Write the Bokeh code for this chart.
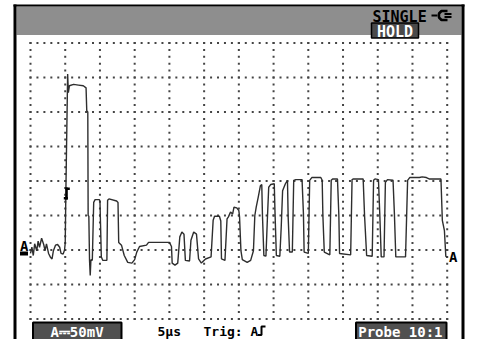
import numpy as np
from bokeh.plotting import figure
from bokeh.models import Range1d
from bokeh.core.properties import value
from bokeh.embed import file_html
from bokeh.resources import INLINE

t_us = [0.0, 0.2, 0.4, 0.6, 0.9, 1.1, 1.3, 1.6, 1.9, 2.1, 2.3, 2.6, 2.9, 3.1, 3.3, 3.6, 3.9, 4.2, 4.4, 4.7,
        4.9, 5.0, 5.1, 5.35, 5.45, 5.6, 6.2, 6.9, 7.6, 8.0, 8.1, 8.25, 8.3, 8.4, 8.5, 8.6, 8.7, 8.9, 9.1, 9.3,
        9.9, 10.0, 10.2, 10.4, 11.0, 11.1, 11.3, 12.4, 12.6, 12.7, 13.1, 13.5, 14.0, 14.6, 15.0, 15.3, 15.7,
        16.7, 17.0, 20.0, 20.3, 20.4, 20.8, 21.2, 21.5, 21.8, 22.1, 22.3, 22.9, 23.1, 23.5, 23.9, 24.2, 24.6,
        25.2, 26.0, 26.3, 26.5, 27.2, 27.4, 27.5, 28.0, 28.3, 28.5, 28.8, 29.1, 29.3, 29.7, 30.0, 30.1, 30.3,
        30.5, 31.2, 31.7, 32.1, 32.3, 32.5, 32.8, 33.1, 33.3, 33.4, 33.6, 33.9, 34.1, 34.3, 34.6, 35.1, 35.2,
        35.4, 35.9, 36.1, 36.3, 36.7, 37.0, 37.1, 37.3, 37.7, 37.9, 38.2, 39.1, 39.3, 39.4, 40.0, 40.2, 40.5,
        41.8, 42.0, 42.1, 42.3, 43.1, 43.3, 43.5, 44.2, 44.4, 44.5, 46.1, 46.3, 46.5, 47.9, 48.1, 48.4, 49.2,
        49.4, 49.6, 50.1, 50.3, 50.5, 50.9, 51.1, 51.4, 52.2, 52.4, 52.6, 54.0, 54.3, 54.6, 56.0, 56.4, 57.0,
        57.4, 59.1, 59.3, 59.6, 59.8, 60.0]
v_mV = [-5, 4, -8, 9, -1, 13, 4, 17, 8, -1, 9, -5, -11, -13, -1, 7, 8, 4, -5, -6,
        0, 10, 89, 255, 228, 238, 240, 239, 238, 235, 202, 200, 50, 49, -15, -37, -14, -15, 69, 73,
        73, 71, -10, -15, -15, 72, 74, 71, 69, 11, 7, -8, -18, -19, -14, -3, 5,
        7, 11, 11, 5, -19, -22, -19, 19, 26, 23, -15, -16, 14, 26, 23, -13, -19,
        -13, -10, 43, 49, 49, 42, -13, -15, 45, 48, 55, 52, 62, 61, 57, 48, -1,
        -14, -18, -15, -1, 50, 62, 77, 93, 95, 50, -8, -9, 43, 91, 95, 96, 57,
        -8, -9, 33, 86, 96, 101, 48, -3, -3, 101, 102, 102, 52, -3, -5, 101, 105,
        105, 101, 50, -3, -7, 101, 103, 103, 50, -5, -7, 102, 103, 103, 50, -8, -9,
        101, 103, 102, 50, -10, -10, 98, 102, 101, 52, -10, -10, 101, 105, 105, 106, 105,
        103, 103, 43, 28, -9, -11]

TIME_PER_DIV_US = 5
VOLT_PER_DIV_MV = 50
N_XDIV = 12
N_YDIV = 8
V_BOTTOM_MV = -100

status_text = "SINGLE"
hold_text = "HOLD"
range_text = "A\u239350mV"
time_text = "5\u00b5s"
trig_text = "Trig: A"
probe_text = "Probe 10:1"
channel_text = "A"

# ---------------- screen layout (pixels) ----------------
W, H = 480, 339
GX0, GX1 = 30.0, 446.7      # grid left/right
GY0, GY1 = 42.5, 318.5      # grid top/bottom
T_SPAN = N_XDIV * TIME_PER_DIV_US
V_SPAN = N_YDIV * VOLT_PER_DIV_MV
pxu = (GX1 - GX0) / T_SPAN
pyu = (GY1 - GY0) / V_SPAN
x_start = -GX0 / pxu
x_end = (W - GX0) / pxu
y_start = V_BOTTOM_MV - (H - GY1) / pyu
y_end = V_BOTTOM_MV + V_SPAN + GY0 / pyu
TDY = -4.5   # text baseline correction
BY = 335.5   # bottom label baseline

p = figure(width=W, height=H, x_range=Range1d(x_start, x_end), y_range=Range1d(y_start, y_end),
           output_backend="svg", toolbar_location=None, min_border=0,
           x_axis_location=None, y_axis_location=None, outline_line_color=None,
           background_fill_color="white", border_fill_color="white",
           styles={"position": "absolute", "left": "0px", "top": "0px"})
p.grid.visible = False
p.extra_x_ranges = {"px": Range1d(0, W)}
p.extra_y_ranges = {"px": Range1d(H, 0)}
PX = dict(x_range_name="px", y_range_name="px")

FONT = value("DejaVu Sans Mono")

# header band and frame
p.quad(left=[16], right=[461], top=[6], bottom=[34.5], fill_color="#8e8e8e", line_color=None, **PX)
p.quad(left=[13, 461, 13], right=[16, 464, 464], top=[4, 4, 4], bottom=[H + 2, H + 2, 6],
       fill_color="black", line_color=None, **PX)

# grid dots (5 per division)
gx, gy = [], []
for k in range(N_YDIV + 1):
    vv = V_BOTTOM_MV + k * VOLT_PER_DIV_MV
    tt = np.arange(0, T_SPAN + 0.01, TIME_PER_DIV_US / 5)
    gx.extend(tt); gy.extend([vv] * len(tt))
for k in range(N_XDIV + 1):
    tt = k * TIME_PER_DIV_US
    vv = np.arange(V_BOTTOM_MV, V_BOTTOM_MV + V_SPAN + 0.01, VOLT_PER_DIV_MV / 5)
    gx.extend([tt] * len(vv)); gy.extend(vv)
p.scatter(gx, gy, marker="square", size=2, fill_color="#444444", line_color=None)

# trace
p.line(t_us, v_mV, line_color="#2e2e2e", line_width=1.4)

# trigger marker (bold I)
p.quad(left=[65, 65, 63.3], right=[67.3, 69.3, 67.3], top=[187, 187, 196.5], bottom=[199, 189.5, 199],
       fill_color="black", line_color=None, **PX)

# channel A markers
p.text(x=[19.5], y=[249.5 + TDY], text=[channel_text], text_font=FONT, text_font_style="bold",
       text_font_size="14px", text_color="black", text_baseline="alphabetic", **PX)
p.quad(left=[19.5], right=[27.5], top=[251], bottom=[255], fill_color="black", line_color=None, **PX)
p.text(x=[448.5], y=[261 + TDY], text=[channel_text], text_font=FONT, text_font_style="bold",
       text_font_size="14px", text_color="black", text_baseline="alphabetic", **PX)

# header texts
p.text(x=[372], y=[20.5 + TDY], text=[status_text], text_font=FONT, text_font_style="bold",
       text_font_size="15px", text_color="black", text_baseline="alphabetic", **PX)
p.quad(left=[371], right=[418], top=[22.5], bottom=[37.5], fill_color="#4a4a4a", line_color="black",
       line_width=1.5, **PX)
p.text(x=[394.5], y=[35.5 + TDY], text=[hold_text], text_font=FONT, text_font_style="bold",
       text_font_size="15px", text_color="white", text_align="center", text_baseline="alphabetic", **PX)
# plug icon
p.line([431, 437], [15, 15], line_color="black", line_width=2, **PX)
p.line([447, 441, 438.5, 438.5, 441, 447], [10.5, 10.5, 13, 17, 19.5, 19.5], line_color="black",
       line_width=2.5, **PX)
p.multi_line([[444, 451], [444, 451]], [[13.5, 13.5], [16.5, 16.5]], line_color="black", line_width=2, **PX)

# bottom labels
p.quad(left=[32.5, 355.5], right=[121, 446], top=[322, 322], bottom=[H + 3, H + 3], fill_color="#505050",
       line_color="black", line_width=2, **PX)
p.text(x=[76.5], y=[BY + TDY], text=[range_text], text_font=FONT, text_font_style="bold", text_font_size="14px",
       text_color="white", text_align="center", text_baseline="alphabetic", **PX)
p.text(x=[442], y=[BY + TDY], text=[probe_text], text_font=FONT, text_font_style="bold", text_font_size="14px",
       text_color="white", text_align="right", text_baseline="alphabetic", **PX)
p.text(x=[157, 203], y=[BY + TDY, BY + TDY], text=[time_text, trig_text], text_font=FONT,
       text_font_style="bold", text_font_size="13px", text_color="black", text_baseline="alphabetic", **PX)
p.line([257.5, 261, 261, 265], [BY - 1, BY - 1, BY - 9.5, BY - 9.5], line_color="black", line_width=2, **PX)

open("out.html", "w").write(file_html(p, INLINE))
